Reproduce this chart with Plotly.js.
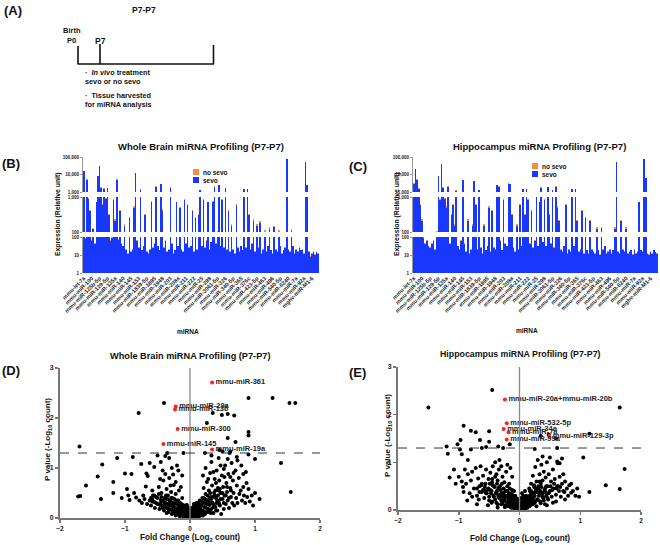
<!DOCTYPE html>
<html><head><meta charset="utf-8">
<script src="https://cdn.plot.ly/plotly-3.0.1.min.js"></script>
<style>html,body{margin:0;padding:0;background:#fff}#chart{width:660px;height:545px}</style>
</head><body><div id="chart"></div>
<script>
// ---------- DATA ----------
const mirLabels = ["mmu-let-7a","mmu-miR-100","mmu-miR-125b-5p","mmu-miR-129-5p","mmu-miR-135a","mmu-miR-140","mmu-miR-145","mmu-miR-153","mmu-miR-1839-5p","mmu-miR-1895","mmu-miR-1948","mmu-miR-203","mmu-miR-208a","mmu-miR-211","mmu-miR-222","mmu-miR-25","mmu-miR-298","mmu-miR-3061-5p","mmu-miR-326","mmu-miR-340-5p","mmu-miR-365","mmu-miR-376c","mmu-miR-423-5p","mmu-miR-463","mmu-miR-496","mmu-miR-540-5p","mmu-miR-6240","mmu-miR-7a","mmu-miR-92a","mghv-miR-M1-6"];
const labelEvery = 5;

const brainSevo = [15000,80,5000,900,400,60,120,40,700,8000,
30000,1800,600,1500,900,1800,300,60,90,800,
200,5000,70,400,40,30,150,20,12,250,
15,20,500,12000,60,25,1300,18,30,300,
15,12,20,700,25,40,2000,30,18,3000,
400,25,60,15,20,1800,40,12,18,700,
30,500,20,15,800,40,600,25,30,400,
15,250,20,300,1300,30,800,25,60,700,
20,50,700,2000,40,100,2500,30,800,25,
1800,20,400,15,150,20,12,600,25,15,
30,18,1400,25,1400,300,20,40,200,15,
150,25,180,12,20,100,15,30,120,18,
12,140,20,15,100,30,12,18,25,80000,
20,15,110,30,12,20,15,25,18,20,
12,50000,2500,15,8,12,15,10,14,12];
const brainNoSevo = [16000,85,5500,950,420,65,130,44,740,8500,
28000,2000,640,1600,950,1700,330,64,95,850,
230,5200,75,430,44,33,165,22,13,270,
16,22,540,11000,65,27,1400,19,33,320,
16,13,22,750,27,44,2100,33,19,2800,
440,27,65,16,22,1900,44,13,19,740,
33,530,22,16,850,44,640,27,33,430,
16,270,22,330,1350,33,850,27,65,740,
22,55,750,2100,44,110,2600,33,850,27,
1700,22,430,16,170,22,13,640,27,16,
33,19,1450,27,1350,330,22,44,230,16,
170,27,200,13,22,115,16,33,135,19,
13,150,22,16,115,33,13,19,27,78000,
22,16,125,33,13,22,16,27,19,22,
13,52000,2600,16,9,13,16,11,15,13];
const hippoSevo = [3000,20000,5000,1500,600,200,90,40,60,30,
25,40,60,20,100,8000,800,40000,1800,900,
500,2000,40,300,600,150,1200,30,20,60,
5000,40,15,200,12,20,150,4000,600,20,
1300,25,12,150,18,30,500,15,400,25,
20,2500,2000,60,18,800,40,30,3000,3000,
300,25,15,150,20,600,30,1500,300,1500,
800,40,400,25,60,1000,30,700,1800,50,
800,30,1900,300,40,1300,25,2000,500,200,
20,15,30,600,12,20,15,1400,30,1400,
200,15,20,400,12,250,18,12,200,20,
15,12,120,18,10,130,20,30,12,15,
20,12,18,120,50000,15,12,200,20,15,
120,12,15,18,10,20,12,15,700,18,
15,80000,6000,12,10,15,12,18,14,12];
const hippoNoSevo = [3200,21000,5200,1600,650,230,95,44,65,33,
27,44,65,22,110,8400,850,38000,1900,950,
540,2100,44,330,650,170,1250,33,22,65,
5100,44,16,230,13,22,170,4200,640,22,
1350,27,13,170,19,33,540,16,430,27,
22,2600,2100,65,19,850,44,33,3100,2900,
330,27,16,170,22,640,33,1550,330,1450,
850,44,430,27,65,1050,33,740,1900,55,
850,33,2000,330,44,1350,27,2100,540,220,
22,16,33,640,13,22,16,1450,33,1450,
220,16,22,430,13,270,19,13,220,22,
16,13,135,19,11,140,22,33,13,16,
22,13,19,135,48000,16,13,220,22,16,
135,13,16,19,11,22,13,16,740,19,
16,82000,6300,13,11,16,13,19,15,13];

// volcano: whole brain
const brainFC_outL = [-1.72,-1.69,-1.70,-1.60,-1.42,-1.35,-1.37,-1.18,-1.18,-1.12,
-1.05,-1.00,-0.97,-0.95,-0.93,-0.90,-0.88,-0.86,-0.83,-0.79,
-0.75,-0.72,-0.68,-0.67,-0.65,-0.62,-0.55,-0.60,-0.58,-0.57,
-0.50,-0.45,-0.42,-0.40,-0.38,-0.35,-0.32,-0.28,-0.26];
const brainP_outL = [0.43,0.44,1.43,0.65,0.83,1.07,0.38,0.72,0.50,1.20,
0.40,0.89,0.58,0.45,0.36,0.88,1.22,0.50,0.41,2.10,
1.08,0.45,0.63,0.89,0.84,1.10,1.02,0.40,0.33,0.45,
1.25,1.12,0.95,2.30,1.24,1.30,1.20,1.00,0.87];
const brainFC_cloudL = [-0.78,-0.74,-0.70,-0.66,-0.62,-0.60,-0.58,-0.55,-0.54,-0.52,
-0.50,-0.48,-0.47,-0.45,-0.44,-0.42,-0.41,-0.40,-0.39,-0.37,
-0.36,-0.35,-0.34,-0.33,-0.32,-0.31,-0.30,-0.29,-0.28,-0.27,
-0.26,-0.25,-0.24,-0.23,-0.22,-0.21,-0.20,-0.19,-0.18,-0.17,
-0.16,-0.15,-0.14,-0.13,-0.12,-0.11,-0.10,-0.09,-0.08,-0.07,
-0.06,-0.05,-0.04,-0.03,-0.02,-0.01,
-0.46,-0.38,-0.30,-0.22,-0.18,-0.14,-0.12,-0.20];
const brainP_cloudL = [0.35,0.30,0.38,0.28,0.35,0.25,0.55,0.32,0.20,0.42,
0.28,0.62,0.18,0.36,0.50,0.24,0.75,0.15,0.40,0.30,
0.58,0.20,0.45,0.12,0.80,0.34,0.25,0.52,0.16,0.40,
0.10,0.66,0.28,0.20,0.48,0.12,0.35,0.07,0.25,0.55,
0.15,0.30,0.09,0.20,0.40,0.05,0.14,0.25,0.06,0.12,
0.03,0.18,0.08,0.04,0.10,0.02,
0.78,0.88,0.65,0.72,0.95,0.62,0.85,1.05];
const brainFC_core = [-0.12,-0.10,-0.08,-0.06,-0.04,-0.02,0.00,0.01,0.02,0.03,
0.04,0.05,0.06,0.07,0.08,0.09,0.10,0.11,0.12,0.13,
0.14,0.15,-0.09,-0.05,0.03,0.06,-0.14,-0.16,0.16,0.18];
const brainP_core = [0.10,0.03,0.15,0.09,0.14,0.05,0.01,0.06,0.12,0.03,
0.08,0.15,0.04,0.10,0.02,0.18,0.06,0.12,0.22,0.08,
0.15,0.04,0.20,0.26,0.20,0.28,0.18,0.04,0.10,0.06];
const brainFC_dense = [-0.45,-0.42,-0.40,-0.38,-0.36,-0.34,-0.32,-0.30,-0.28,-0.26,
-0.25,-0.23,-0.22,-0.20,-0.19,-0.17,-0.16,-0.15,-0.13,-0.12,
-0.11,-0.10,-0.09,-0.08,-0.07,-0.06,-0.05,-0.04,-0.03,-0.02,
0.02,0.03,0.04,0.05,0.06,0.07,0.08,0.09,0.10,0.11,
0.12,0.13,0.15,0.16,0.17,0.19,0.20,0.22,0.23,0.25,
0.26,0.28,0.30,0.32,0.34,0.36,0.38,0.40,0.42,0.45,
-0.03,0.00,0.01,-0.01,0.04,-0.06,0.07,-0.10,0.12,0.18];
const brainP_dense = [0.30,0.20,0.33,0.22,0.10,0.28,0.18,0.35,0.08,0.22,
0.30,0.15,0.05,0.28,0.18,0.10,0.22,0.04,0.13,0.27,
0.08,0.19,0.12,0.03,0.17,0.11,0.07,0.13,0.02,0.06,
0.05,0.11,0.02,0.09,0.16,0.06,0.12,0.25,0.14,0.04,
0.18,0.30,0.10,0.20,0.14,0.32,0.05,0.22,0.38,0.12,
0.28,0.18,0.40,0.10,0.30,0.22,0.45,0.15,0.35,0.28,
0.06,0.04,0.10,0.08,0.02,0.02,0.07,0.09,0.03,0.15];
const brainFC_dense2 = [-0.58,-0.55,-0.52,-0.50,-0.48,-0.46,-0.44,-0.41,-0.39,-0.37,
-0.35,-0.33,-0.31,-0.29,-0.27,-0.24,-0.21,-0.18,-0.14,-0.11,
-0.08,-0.05,-0.02,0.00,0.03,0.05,0.08,0.10,0.13,0.15,
0.18,0.21,0.24,0.27,0.29,0.31,0.33,0.35,0.37,0.39,
0.41,0.43,0.44,0.47,0.50,0.52,0.55,0.57,0.60,0.63,
-0.07,-0.04,0.02,0.05,-0.15,0.14,-0.25,0.22,-0.33,0.30];
const brainP_dense2 = [0.38,0.45,0.30,0.40,0.48,0.26,0.42,0.34,0.28,0.45,
0.38,0.26,0.30,0.40,0.30,0.38,0.30,0.35,0.28,0.22,
0.22,0.25,0.20,0.13,0.18,0.22,0.20,0.30,0.25,0.35,
0.28,0.40,0.36,0.45,0.33,0.50,0.38,0.42,0.25,0.55,
0.30,0.45,0.55,0.38,0.50,0.30,0.45,0.62,0.40,0.55,
0.02,0.05,0.03,0.01,0.08,0.06,0.12,0.10,0.18,0.16];
const brainFC_cloudR = [0.17,0.19,0.20,0.21,0.22,0.23,0.24,0.25,0.26,0.27,
0.28,0.29,0.30,0.31,0.32,0.33,0.34,0.35,0.36,0.37,
0.38,0.39,0.40,0.41,0.42,0.43,0.44,0.45,0.46,0.47,
0.48,0.49,0.50,0.51,0.52,0.53,0.54,0.55,0.56,0.57,
0.58,0.59,0.60,0.62,0.63,0.64,0.65,0.66,0.67,0.68,
0.70,0.71,0.72,0.73,0.75,0.76,0.78,0.80,0.82,0.83,
0.85,0.87,0.88,0.90,0.92,0.95,0.97,1.00,1.07,0.20,
0.24,0.28,0.33,0.36,0.44,0.47,0.52,0.58,0.61,0.67,
0.73,0.79,0.82,0.86,0.62,0.40,0.46,0.53];
const brainP_cloudR = [0.25,0.40,0.15,0.60,0.30,0.08,0.48,0.20,0.72,0.35,
0.12,0.55,0.26,0.90,0.42,0.18,0.65,0.30,0.10,0.50,
0.78,0.22,0.40,0.95,0.15,0.60,0.32,0.75,0.25,0.50,
0.08,0.85,0.38,0.62,0.18,0.45,1.05,0.28,0.70,0.52,
0.35,0.88,0.20,0.60,0.42,1.10,0.30,0.75,0.50,0.25,
0.95,0.40,0.65,0.30,0.80,0.48,0.55,0.35,0.62,0.45,
0.30,0.70,0.42,0.58,0.33,0.45,0.25,0.50,0.38,0.85,
1.00,0.78,1.12,0.92,1.20,1.05,0.98,1.18,1.30,0.90,
1.15,1.05,0.88,0.92,0.82,0.70,0.58,0.82];
const brainFC_outR = [0.26,0.35,0.49,0.58,0.68,0.90,1.27,1.53,1.62,0.90,
0.90,0.58,0.70,0.45,0.50,0.62,0.90,1.00,1.40,1.55,
0.72,0.33,0.23,-0.10];
const brainP_outR = [1.90,2.10,2.06,2.08,2.05,2.40,2.40,2.30,2.30,1.72,
1.65,1.60,1.52,1.36,1.33,1.33,1.27,1.18,1.10,0.52,
1.22,1.25,1.30,1.30];
const brainSigFC = [0.34,-0.22,-0.23,-0.19,-0.41,0.34];
const brainSigP = [2.71,2.23,2.17,1.78,1.48,1.37];
const brainSigNames = ["mmu-miR-361","mmu-miR-29a","mmu-miR-136","mmu-miR-300","mmu-miR-145","mmu-miR-19a"];

// volcano: hippocampus
const hippoFC_out = [-1.50,-0.45,1.65,-0.92,-0.80,-0.72,-0.50,-0.97,-1.02,-1.20,
-1.18,-0.98,-0.80,-0.65,-0.62,-0.55,-0.35,-0.27,-0.50,-0.95,
-0.85,-1.08,-1.15,-0.92,-1.00,1.15,1.05,1.73,1.42,1.65,
1.15,0.25,0.60,0.48,0.35,0.62,-0.16];
const hippoP_out = [2.15,2.52,2.15,1.77,1.66,1.63,1.65,1.47,1.38,1.33,
1.18,1.27,1.27,1.47,1.30,1.32,1.33,1.30,1.43,1.17,
1.05,0.85,0.68,0.38,0.70,1.60,1.10,0.86,0.52,0.44,
0.38,1.28,1.50,1.58,1.55,1.30,1.38];
const hippoFC_cloudL = [-0.95,-0.90,-0.88,-0.85,-0.82,-0.80,-0.78,-0.75,-0.72,-0.70,
-0.68,-0.66,-0.64,-0.62,-0.60,-0.58,-0.56,-0.55,-0.53,-0.51,
-0.50,-0.48,-0.47,-0.45,-0.44,-0.42,-0.41,-0.40,-0.38,-0.37,
-0.36,-0.34,-0.33,-0.32,-0.30,-0.29,-0.28,-0.27,-0.26,-0.25,
-0.24,-0.23,-0.22,-0.21,-0.20,-0.19,-0.18,-0.17,-0.16,-0.15,
-0.14,-0.13,-0.12,-0.11,-0.10,-0.09,-0.08,-0.07,-0.06,-0.05,
-0.04,-0.03,-0.02,-0.01,
-0.86,-0.70,-0.62,-0.52,-0.46,-0.36,-0.57,-0.67,-0.78,-0.93,
-1.05,-0.40,-0.33,-0.20,-0.30,-0.12,-0.15];
const hippoP_cloudL = [0.60,0.85,0.55,0.75,0.35,0.62,0.80,0.45,0.88,0.30,
0.66,0.50,0.92,0.38,0.72,0.25,0.55,0.85,0.42,0.65,
0.20,0.78,0.35,0.58,0.92,0.28,0.48,0.70,0.15,0.40,
0.62,0.85,0.25,0.50,0.12,0.35,0.70,0.20,0.45,0.58,
0.10,0.30,0.80,0.18,0.40,0.08,0.26,0.55,0.14,0.32,
0.05,0.20,0.42,0.10,0.25,0.04,0.15,0.30,0.06,0.12,
0.02,0.08,0.15,0.04,
0.20,0.12,0.55,0.10,0.15,0.05,0.40,0.22,0.28,0.48,
0.55,1.00,1.05,0.95,0.92,0.70,0.88];
const hippoFC_core = [0.00,0.01,0.02,0.03,0.04,0.05,0.06,0.07,0.08,0.09,0.10,0.11,0.12,0.13,0.14,0.15,-0.02,0.02,0.06];
const hippoP_core = [0.01,0.05,0.10,0.03,0.14,0.06,0.02,0.18,0.08,0.12,0.03,0.22,0.10,0.05,0.16,0.28,0.20,0.25,0.30];
const hippoFC_dense = [-0.55,-0.50,-0.48,-0.45,-0.43,-0.40,-0.38,-0.36,-0.34,-0.32,
-0.30,-0.28,-0.27,-0.25,-0.24,-0.22,-0.21,-0.19,-0.18,-0.16,
-0.15,-0.14,-0.12,-0.11,-0.10,-0.09,-0.08,-0.07,-0.06,-0.05,
-0.04,-0.03,-0.02,-0.01,0.01,0.02,0.03,0.04,0.05,0.07,
0.08,0.09,0.10,0.12,0.13,0.15,0.17,0.18,0.20,0.22,
0.24,0.26,0.28,0.30,0.33,0.35,0.38,0.40,0.43,0.46,
-0.35,-0.20,-0.13,-0.06,0.00,0.06,0.11,0.19,0.27,-0.44];
const hippoP_dense = [0.35,0.28,0.42,0.18,0.30,0.22,0.38,0.12,0.27,0.33,
0.20,0.15,0.30,0.24,0.06,0.18,0.28,0.12,0.20,0.08,
0.16,0.25,0.05,0.13,0.18,0.10,0.03,0.08,0.14,0.05,
0.09,0.02,0.04,0.08,0.03,0.07,0.12,0.05,0.10,0.04,
0.14,0.08,0.18,0.06,0.12,0.22,0.09,0.16,0.25,0.12,
0.30,0.18,0.08,0.22,0.35,0.14,0.28,0.20,0.38,0.25,
0.46,0.50,0.35,0.22,0.12,0.18,0.26,0.35,0.42,0.52];
const hippoFC_dense2 = [-0.70,-0.66,-0.63,-0.60,-0.57,-0.54,-0.51,-0.49,-0.46,-0.42,
-0.39,-0.37,-0.35,-0.31,-0.29,-0.26,-0.23,-0.20,-0.17,-0.13,
-0.10,-0.07,-0.04,-0.01,0.02,0.05,0.08,0.11,0.14,0.17,
0.19,0.21,0.23,0.25,0.27,0.29,0.31,0.34,0.36,0.39,
0.42,0.44,0.48,0.51,0.54,0.57,0.61,0.64,0.67,0.72,
-0.45,-0.38,-0.29,-0.16,-0.09,0.04,0.09,0.16,0.24,0.33];
const hippoP_dense2 = [0.45,0.38,0.52,0.42,0.48,0.35,0.45,0.55,0.40,0.50,
0.35,0.55,0.30,0.42,0.28,0.36,0.40,0.30,0.35,0.28,
0.30,0.22,0.24,0.12,0.16,0.22,0.28,0.30,0.26,0.30,
0.40,0.20,0.36,0.30,0.45,0.38,0.50,0.40,0.48,0.36,
0.45,0.50,0.35,0.50,0.42,0.55,0.45,0.50,0.48,0.40,
0.65,0.75,0.55,0.45,0.40,0.35,0.40,0.45,0.52,0.60];
const hippoFC_cloudR = [0.16,0.17,0.18,0.19,0.20,0.21,0.22,0.23,0.24,0.25,
0.26,0.27,0.28,0.29,0.30,0.31,0.32,0.33,0.34,0.35,
0.36,0.37,0.38,0.39,0.40,0.41,0.42,0.43,0.44,0.45,
0.46,0.47,0.48,0.50,0.52,0.53,0.55,0.56,0.58,0.60,
0.62,0.63,0.65,0.66,0.68,0.70,0.72,0.74,0.75,0.78,
0.80,0.82,0.85,0.88,0.92,0.95,0.98,0.62,0.66,0.70,
0.50,0.38,0.55,0.45,0.85,0.75,0.60];
const hippoP_cloudR = [0.08,0.40,0.20,0.55,0.12,0.32,0.72,0.25,0.48,0.15,
0.90,0.38,0.60,0.22,1.05,0.45,0.30,0.75,0.18,0.55,
0.95,0.35,0.62,0.25,0.80,0.42,0.12,0.68,0.30,1.00,
0.50,0.22,0.75,0.40,0.60,0.28,0.85,0.45,0.65,0.32,
0.50,0.98,0.40,0.70,0.28,0.55,0.75,0.38,0.60,0.45,
0.30,0.52,0.36,0.40,0.30,0.45,0.28,1.02,0.98,1.08,
1.10,1.12,0.15,0.10,0.55,0.22,0.18];
const hippoSigFC = [-0.24,-0.21,-0.26,-0.18,0.49,-0.21];
const hippoSigP = [2.32,1.82,1.70,1.63,1.55,1.48];
const hippoSigNames = ["mmu-miR-20a+mmu-miR-20b","mmu-miR-532-5p","mmu-miR-34a","mmu-miR-7a","mmu-miR-129-3p","mmu-miR-99a"];

const legendNames = ["no sevo","sevo"];
const pThreshold = 1.3;

// ---------- HELPERS ----------
const W = 660, H = 545;
const px = x => x / W, py = y => 1 - y / H;
const FONT = 'Liberation Sans, Arial, sans-serif';
const BLUE = '#1838ff', ORANGE = '#ff8a3d';

const brainFC = [].concat(brainFC_outL, brainFC_cloudL, brainFC_core, brainFC_dense, brainFC_dense2, brainFC_cloudR, brainFC_outR);
const brainP = [].concat(brainP_outL, brainP_cloudL, brainP_core, brainP_dense, brainP_dense2, brainP_cloudR, brainP_outR);
const hippoFC = [].concat(hippoFC_out, hippoFC_cloudL, hippoFC_core, hippoFC_dense, hippoFC_dense2, hippoFC_cloudR);
const hippoP = [].concat(hippoP_out, hippoP_cloudL, hippoP_core, hippoP_dense, hippoP_dense2, hippoP_cloudR);

function barTraces(sevo, noSevo, xa, yas) {
  const xs = sevo.map((_, i) => i);
  const out = [];
  yas.forEach((ya) => {
    out.push({type:'bar', x:xs, y:noSevo, xaxis:xa, yaxis:ya, name:legendNames[0],
      marker:{color:ORANGE, line:{width:0}}, showlegend:false, hoverinfo:'skip'});
    out.push({type:'bar', x:xs, y:sevo, xaxis:xa, yaxis:ya, name:legendNames[1],
      marker:{color:BLUE, line:{width:0}}, showlegend:false, hoverinfo:'skip'});
  });
  return out;
}

const textFont = {family:FONT, size:7.5, color:'#222', weight:'bold'};
const MS = 4;
const traces = [].concat(
  barTraces(brainSevo, brainNoSevo, 'x', ['y','y2','y3']),
  barTraces(hippoSevo, hippoNoSevo, 'x2', ['y4','y5','y6']),
  [
    {type:'scatter', mode:'markers', x:brainFC, y:brainP, xaxis:'x3', yaxis:'y7',
     marker:{color:'#000', size:MS}, showlegend:false, hoverinfo:'skip', cliponaxis:false},
    {type:'scatter', mode:'markers+text', x:brainSigFC, y:brainSigP, text:brainSigNames, xaxis:'x3', yaxis:'y7',
     textposition:'middle right', textfont:textFont,
     marker:{color:'#ff2020', size:MS}, showlegend:false, hoverinfo:'skip', cliponaxis:false},
    {type:'scatter', mode:'markers', x:hippoFC, y:hippoP, xaxis:'x4', yaxis:'y8',
     marker:{color:'#000', size:MS}, showlegend:false, hoverinfo:'skip', cliponaxis:false},
    {type:'scatter', mode:'markers+text', x:hippoSigFC, y:hippoSigP, text:hippoSigNames, xaxis:'x4', yaxis:'y8',
     textposition:'middle right', textfont:textFont,
     marker:{color:'#ff2020', size:MS}, showlegend:false, hoverinfo:'skip', cliponaxis:false}
  ]
);

const tickIdx = mirLabels.map((_, k) => k * labelEvery);
function barX(dom, anchor, n) {
  return {domain:dom, anchor:anchor, range:[-0.5, n - 0.5], tickmode:'array',
    tickvals:tickIdx, ticktext:mirLabels, tickangle:-45, tickfont:{family:FONT, size:5.6, color:'#222', weight:'bold'},
    showline:false, ticks:'', showgrid:false, zeroline:false, automargin:false};
}
function logY(dom, anchor, rng, vals, txt) {
  return {domain:dom, anchor:anchor, type:'log', range:rng, tickmode:'array', tickvals:vals, ticktext:txt,
    tickfont:{family:FONT, size:4.5, color:'#222', weight:'bold'}, showline:true, linecolor:'#999', linewidth:1,
    ticks:'outside', ticklen:2, tickcolor:'#999', showgrid:false, zeroline:false, automargin:false};
}
const segBot = [py(273), py(237)], segMid = [py(232), py(197)], segTop = [py(192), py(157)];
const botVals = [1,10,100], botTxt = ["1","10","100"];
const midVals = [100,1000], midTxt = ["100","1,000"];
const topVals = [1000,10000,100000], topTxt = ["1,000","10,000","100,000"];

function volX(dom, anchor) {
  return {domain:dom, anchor:anchor, range:[-2,2], dtick:1, tick0:0, ticks:'outside', ticklen:3, tickwidth:1.5,
    tickcolor:'#777', showline:true, linecolor:'#777', linewidth:2, showgrid:false, zeroline:false,
    tickfont:{family:FONT, size:6.5, color:'#222', weight:'bold'}, automargin:false};
}
function volY(dom, anchor) {
  return {domain:dom, anchor:anchor, range:[0,3], dtick:1, ticks:'outside', ticklen:3, tickwidth:1.5,
    tickcolor:'#777', showline:true, linecolor:'#777', linewidth:2, showgrid:false, zeroline:false,
    tickfont:{family:FONT, size:7, color:'#222', weight:'bold'}, automargin:false};
}

const bold = (t) => '<b>' + t + '</b>';
function ann(text, x, y, size, opts) {
  return Object.assign({text:bold(text), x:px(x), y:py(y), xref:'paper', yref:'paper', showarrow:false,
    font:{family:FONT, size:size, color:'#111'}, xanchor:'center', yanchor:'middle'}, opts || {});
}

const annotations = [
  ann('(A)', 2, 10, 13, {xanchor:'left'}),
  ann('P7-P7', 144, 10, 8.5),
  ann('Birth', 72, 30, 7.5),
  ann('P0', 71, 40, 7.5),
  ann('P7', 100, 41, 8.5),
  ann('·  <i>In vivo</i> treatment', 83, 72, 7.3, {xanchor:'left'}),
  ann('sevo or no sevo', 83, 81.5, 7.3, {xanchor:'left'}),
  ann('·  Tissue harvested', 83, 95, 7.3, {xanchor:'left'}),
  ann('for miRNA analysis', 83, 104, 7.3, {xanchor:'left'}),
  ann('(B)', 0, 163, 13, {xanchor:'left'}),
  ann('(C)', 347, 166, 13, {xanchor:'left'}),
  ann('(D)', 0, 370, 13, {xanchor:'left'}),
  ann('(E)', 347, 372, 13, {xanchor:'left'}),
  ann('Whole Brain miRNA Profiling (P7-P7)', 201, 146, 9.5),
  ann('Hippocampus miRNA Profiling (P7-P7)', 539, 146, 9.5),
  ann('Whole Brain miRNA Profiling (P7-P7)', 190, 356, 9.2),
  ann('Hippocampus miRNA Profiling (P7-P7)', 520, 354, 8.8),
  ann('Expression (Relative unit)', 58, 215, 6.8, {textangle:-90}),
  ann('Expression (Relative unit)', 397, 215, 6.8, {textangle:-90}),
  ann('miRNA', 188, 331, 6.5),
  ann('miRNA', 527, 330, 6.5),
  ann('P value (-Log<sub>10</sub> count)', 48, 440, 8, {textangle:-90}),
  ann('P value (-Log<sub>10</sub> count)', 388, 436, 8, {textangle:-90}),
  ann('Fold Change (Log<sub>2</sub> count)', 190, 538, 8.2),
  ann('Fold Change (Log<sub>2</sub> count)', 520, 539, 8.2),
  // legends
  ann(legendNames[0], 201, 172, 6.5, {xanchor:'left'}),
  ann(legendNames[1], 201, 180, 6.5, {xanchor:'left'}),
  ann(legendNames[0], 540, 166, 6.5, {xanchor:'left'}),
  ann(legendNames[1], 540, 174.5, 6.5, {xanchor:'left'})
];

const lineA = {color:'#111', width:1.6};
const rect = (x0, y0, x1, y1, c) => ({type:'rect', xref:'paper', yref:'paper', x0:px(x0), x1:px(x1), y0:py(y1), y1:py(y0), fillcolor:c, line:{width:0}});
const shapes = [
  {type:'line', xref:'paper', yref:'paper', x0:px(77.5), x1:px(214), y0:py(64), y1:py(64), line:lineA},
  {type:'line', xref:'paper', yref:'paper', x0:px(78), x1:px(78), y0:py(46), y1:py(64), line:lineA},
  {type:'line', xref:'paper', yref:'paper', x0:px(100), x1:px(100), y0:py(44), y1:py(64), line:lineA},
  {type:'line', xref:'paper', yref:'paper', x0:px(213.5), x1:px(213.5), y0:py(45), y1:py(64), line:lineA},
  {type:'line', xref:'x3', yref:'y7', x0:0, x1:0, y0:0, y1:3, line:{color:'#888', width:1.3}},
  {type:'line', xref:'x3', yref:'y7', x0:-2, x1:2, y0:pThreshold, y1:pThreshold, line:{color:'#333', width:1, dash:'dash'}},
  {type:'line', xref:'x4', yref:'y8', x0:0, x1:0, y0:0, y1:3, line:{color:'#888', width:1.3}},
  {type:'line', xref:'x4', yref:'y8', x0:-2, x1:2, y0:pThreshold, y1:pThreshold, line:{color:'#333', width:1, dash:'dash'}},
  rect(193, 169, 199, 175, ORANGE), rect(193, 177, 199, 183, BLUE),
  rect(532, 163, 538, 169, ORANGE), rect(532, 171, 538, 177, BLUE)
];

const layout = {
  width:W, height:H, margin:{l:0, r:0, t:0, b:0}, paper_bgcolor:'#fff', plot_bgcolor:'rgba(0,0,0,0)',
  font:{family:FONT}, barmode:'overlay', bargap:0, showlegend:false,
  xaxis:barX([px(83), px(319)], 'y', brainSevo.length),
  yaxis:logY(segBot, 'x', [0,2], botVals, botTxt),
  yaxis2:logY(segMid, 'x', [2,3], midVals, midTxt),
  yaxis3:logY(segTop, 'x', [3,5], topVals, topTxt),
  xaxis2:barX([px(413), px(658)], 'y4', hippoSevo.length),
  yaxis4:logY(segBot, 'x2', [0,2], botVals, botTxt),
  yaxis5:logY(segMid, 'x2', [2,3], midVals, midTxt),
  yaxis6:logY(segTop, 'x2', [3,5], topVals, topTxt),
  xaxis3:volX([px(60), px(320)], 'y7'),
  yaxis7:volY([py(518), py(368)], 'x3'),
  xaxis4:volX([px(398), px(641)], 'y8'),
  yaxis8:volY([py(510), py(367)], 'x4'),
  annotations:annotations, shapes:shapes
};

Plotly.newPlot('chart', traces, layout, {staticPlot:true, displayModeBar:false});
</script>
</body></html>
